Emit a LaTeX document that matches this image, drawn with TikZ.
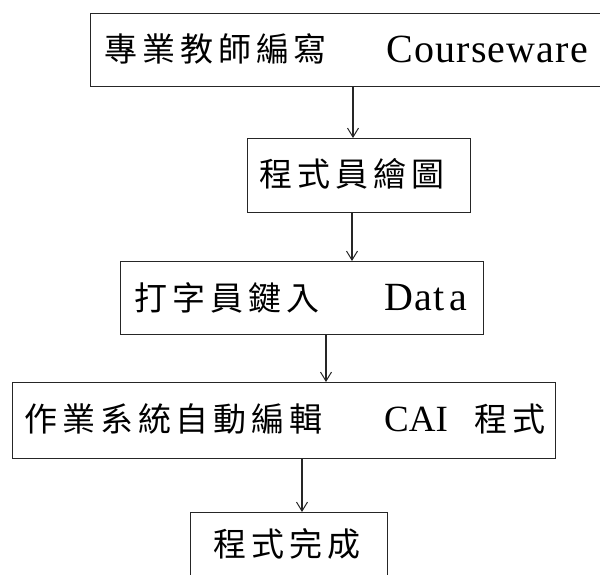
\documentclass[tikz,border=0pt]{standalone}
\usepackage{fontspec}
\setmainfont{Liberation Serif}
\newfontfamily\cjk[LetterSpace=15]{Noto Sans CJK TC}
\newfontfamily\latsp[LetterSpace=3]{Liberation Serif}
\usetikzlibrary{arrows.meta}
\begin{document}
\begin{tikzpicture}[x=1pt,y=-1pt,
  box/.style={draw=black!85,line width=1.4pt,inner sep=0pt,anchor=north west},
  arr/.style={draw=black!85,line width=1.1pt,-{Straight Barb[length=9pt,width=11pt,line width=1pt]}},
  zh/.style={font=\cjk\fontsize{33}{33}\selectfont,inner sep=0pt,anchor=west},
  en/.style={font=\latsp\fontsize{40}{40}\selectfont,inner sep=0pt,anchor=west},
  ensm/.style={font=\fontsize{37}{37}\selectfont,inner sep=0pt,anchor=west}]
\useasboundingbox (0,0) rectangle (600,575);
\clip (0,0) rectangle (600,575);
% boxes
\node[box,minimum width=530pt,minimum height=73pt] (b1) at (90,13) {};
\node[box,minimum width=223pt,minimum height=74pt] (b2) at (247,138) {};
\node[box,minimum width=363pt,minimum height=73pt] (b3) at (120,261) {};
\node[box,minimum width=543pt,minimum height=76pt] (b4) at (12,382) {};
\node[box,minimum width=197pt,minimum height=80pt] (b5) at (190,512) {};
% texts
\node[zh] (t1a) at (104,49) {專業教師編寫};
\node[en] (t1b) at (386,49) {Courseware};
\node[zh] (t2) at (259,174) {程式員繪圖};
\node[zh] (t3a) at (134,298) {打字員鍵入};
\node[en] (t3b) at (384,298) {Dat\hspace{5pt}a};
\node[zh] (t4a) at (24,419) {作業系統自動編輯};
\node[ensm] (t4b) at (384,419) {CAI};
\node[zh] (t4c) at (474,419) {程式};
\node[zh] (t5) at (213,544) {程式完成};
% connectors
\coordinate (x1) at (353,0);
\coordinate (x2) at (352,0);
\coordinate (x3) at (326,0);
\coordinate (x4) at (302,0);
\draw[arr] (b1.south -| x1) -- (b2.north -| x1);
\draw[arr] (b2.south -| x2) -- (b3.north -| x2);
\draw[arr] (b3.south -| x3) -- (b4.north -| x3);
\draw[arr] (b4.south -| x4) -- (b5.north -| x4);
\end{tikzpicture}
\end{document}
